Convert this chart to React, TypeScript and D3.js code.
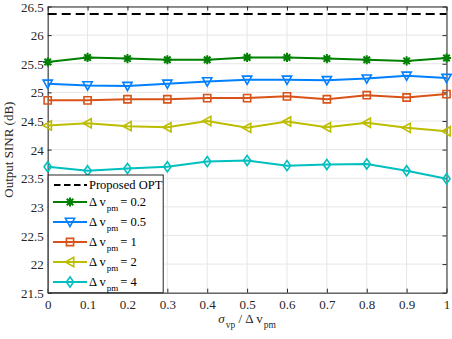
import * as d3 from 'd3'
import { useEffect, useRef } from 'react'

const xs = [0, 0.1, 0.2, 0.3, 0.4, 0.5, 0.6, 0.7, 0.8, 0.9, 1]
const optLevel = 26.37
const s02 = [25.53, 25.61, 25.59, 25.57, 25.57, 25.61, 25.61, 25.59, 25.57, 25.55, 25.6]
const s05 = [25.15, 25.12, 25.11, 25.15, 25.19, 25.22, 25.22, 25.21, 25.24, 25.29, 25.25]
const s1 = [24.86, 24.86, 24.88, 24.88, 24.9, 24.9, 24.93, 24.88, 24.95, 24.91, 24.97]
const s2 = [24.42, 24.46, 24.41, 24.39, 24.5, 24.38, 24.49, 24.39, 24.47, 24.38, 24.32]
const s4 = [23.7, 23.63, 23.67, 23.7, 23.79, 23.81, 23.72, 23.74, 23.75, 23.63, 23.49]
const xTicks = [0, 0.1, 0.2, 0.3, 0.4, 0.5, 0.6, 0.7, 0.8, 0.9, 1]
const yTicks = [21.5, 22, 22.5, 23, 23.5, 24, 24.5, 25, 25.5, 26, 26.5]

const seriesList = [
  { vals: s02, color: '#008000', marker: 'star', label: '0.2' },
  { vals: s05, color: '#0080ff', marker: 'tdown', label: '0.5' },
  { vals: s1, color: '#d95319', marker: 'square', label: '1' },
  { vals: s2, color: '#bdbd00', marker: 'tleft', label: '2' },
  { vals: s4, color: '#00bfbf', marker: 'diamond', label: '4' },
]

const FONT = "'Liberation Serif', 'Times New Roman', serif"

function drawMarker(g: any, kind: string, x: number, y: number, color: string) {
  const r = 4.6
  if (kind === 'star') {
    const p = d3.path()
    for (let k = 0; k < 4; k++) {
      const a = (k * Math.PI) / 4
      p.moveTo(x - r * Math.cos(a), y - r * Math.sin(a))
      p.lineTo(x + r * Math.cos(a), y + r * Math.sin(a))
    }
    g.append('path').attr('d', p.toString()).attr('stroke', color).attr('stroke-width', 2).attr('fill', 'none')
    return
  }
  let pts: [number, number][] = []
  if (kind === 'tdown') pts = [[x - r, y - r * 0.8], [x + r, y - r * 0.8], [x, y + r]]
  if (kind === 'tleft') pts = [[x + r * 0.8, y - r], [x + r * 0.8, y + r], [x - r, y]]
  if (kind === 'square') pts = [[x - 3.6, y - 3.6], [x + 3.6, y - 3.6], [x + 3.6, y + 3.6], [x - 3.6, y + 3.6]]
  if (kind === 'diamond') pts = [[x, y - r - 0.5], [x + r - 1, y], [x, y + r + 0.5], [x - r + 1, y]]
  g.append('polygon').attr('points', pts.map(p => p.join(',')).join(' '))
    .attr('stroke', color).attr('stroke-width', 1.6).attr('fill', 'none')
}

function makeChart(svgEl: SVGSVGElement) {
  const svg = d3.select(svgEl)
  svg.selectAll('*').remove()
  const L = 47.7, R = 446.5, T = 6.5, B = 292.7
  const x = d3.scaleLinear().domain([0, 1]).range([L, R])
  const y = d3.scaleLinear().domain([21.5, 26.5]).range([B, T])

  svg.append('rect').attr('width', 452).attr('height', 339).attr('fill', '#fff')

  // grid
  const grid = svg.append('g').attr('stroke', '#e6e6e6').attr('stroke-width', 1)
  xTicks.forEach(t => grid.append('line').attr('x1', x(t)).attr('x2', x(t)).attr('y1', T).attr('y2', B))
  yTicks.forEach(t => grid.append('line').attr('x1', L).attr('x2', R).attr('y1', y(t)).attr('y2', y(t)))

  // axes
  const ax = svg.append('g').attr('transform', `translate(0,${B})`)
    .call(d3.axisBottom(x).tickValues(xTicks).tickSizeInner(-4).tickSizeOuter(0).tickPadding(7)
      .tickFormat(d => d3.format('')(+d)))
  const ay = svg.append('g').attr('transform', `translate(${L},0)`)
    .call(d3.axisLeft(y).tickValues(yTicks).tickSizeInner(-4).tickSizeOuter(0).tickPadding(4)
      .tickFormat(d => String(d)))
  svg.append('g').attr('transform', `translate(0,${T})`)
    .call(d3.axisTop(x).tickValues(xTicks).tickSizeInner(-4).tickSizeOuter(0).tickFormat(() => ''))
  svg.append('g').attr('transform', `translate(${R},0)`)
    .call(d3.axisRight(y).tickValues(yTicks).tickSizeInner(-4).tickSizeOuter(0).tickFormat(() => ''))
  svg.selectAll('g').attr('font-family', null)
  svg.selectAll('.domain').attr('stroke', '#262626')
  svg.selectAll('.tick line').attr('stroke', '#262626')
  ;[ax, ay].forEach(a => a.selectAll('text').style('font-family', FONT).attr('font-size', 13).attr('fill', '#262626'))
  ax.selectAll('text').attr('dy', '0.71em')
  ay.selectAll('text').attr('dy', '0.35em')

  // optimum
  svg.append('line').attr('x1', x(0)).attr('x2', x(1)).attr('y1', y(optLevel)).attr('y2', y(optLevel))
    .attr('stroke', '#000').attr('stroke-width', 2).attr('stroke-dasharray', '9,5')

  const line = d3.line<number>().x((_, i) => x(xs[i])).y(d => y(d))
  seriesList.forEach(s => {
    svg.append('path').datum(s.vals).attr('d', line).attr('fill', 'none')
      .attr('stroke', s.color).attr('stroke-width', 2)
    const mg = svg.append('g')
    s.vals.forEach((v, i) => drawMarker(mg, s.marker, x(xs[i]), y(v), s.color))
  })

  // legend
  const lg = svg.append('g')
  lg.append('rect').attr('x', L + 0.5).attr('y', 175).attr('width', 115).attr('height', B - 175)
    .attr('fill', '#fff').attr('stroke', '#262626').attr('stroke-width', 1)
  lg.append('line').attr('x1', 54).attr('x2', 87).attr('y1', 185).attr('y2', 185)
    .attr('stroke', '#000').attr('stroke-width', 2).attr('stroke-dasharray', '6.5,3.5')
  lg.append('text').attr('x', 89).attr('y', 189).style('font-family', FONT).attr('font-size', 12.5)
    .attr('fill', '#000').text('Proposed OPT')
  seriesList.forEach((s, i) => {
    const yy = 202 + i * 20
    lg.append('line').attr('x1', 53).attr('x2', 87).attr('y1', yy).attr('y2', yy)
      .attr('stroke', s.color).attr('stroke-width', 2)
    drawMarker(lg, s.marker, 70, yy, s.color)
    const t = lg.append('text').attr('x', 89).attr('y', yy + 4).style('font-family', FONT)
      .attr('font-size', 12.5).attr('fill', '#000')
    t.append('tspan').text('Δ v')
    t.append('tspan').attr('font-size', 9).attr('dy', 5).attr('dx', 1).text('pm')
    t.append('tspan').attr('dy', -5).attr('dx', 2).text('= ' + s.label)
  })

  // labels
  const xl = svg.append('text').attr('x', 247).attr('y', 323).attr('text-anchor', 'middle')
    .style('font-family', FONT).attr('font-size', 13).attr('fill', '#262626')
  xl.append('tspan').attr('font-style', 'italic').text('σ')
  xl.append('tspan').attr('font-size', 9.5).attr('dy', 5).attr('dx', 1).text('vp')
  xl.append('tspan').attr('dy', -5).text(' / Δ v')
  xl.append('tspan').attr('font-size', 9.5).attr('dy', 5).attr('dx', 1).text('pm')

  svg.append('text').attr('transform', `translate(13,${(T + B) / 2}) rotate(-90)`)
    .attr('text-anchor', 'middle').style('font-family', FONT).attr('font-size', 13)
    .attr('fill', '#262626').text('Output SINR (dB)')
}

export default function App() {
  const ref = useRef<SVGSVGElement>(null)
  useEffect(() => {
    if (ref.current) makeChart(ref.current)
  })
  return (
    <svg ref={ref} width={452} height={339}
      style={{ position: 'absolute', left: 0, top: 0, display: 'block' }} />
  )
}
